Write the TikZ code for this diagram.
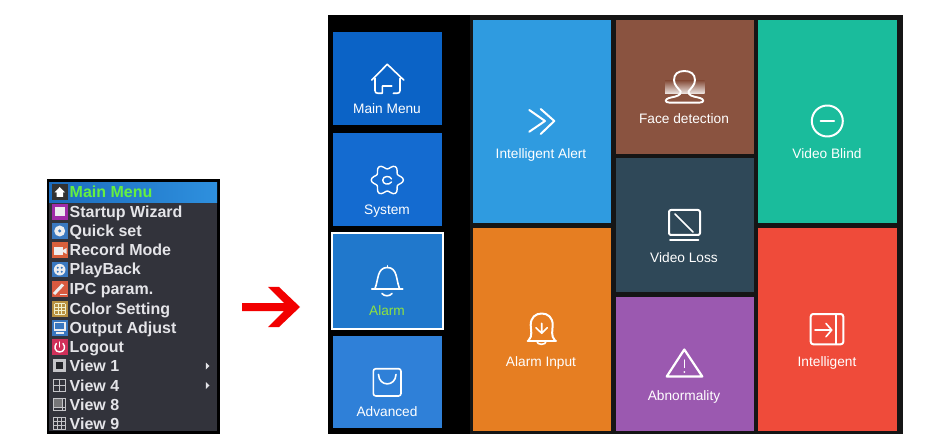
\documentclass[tikz,border=0pt]{standalone}
\usepackage{fontspec}
\setmainfont{Liberation Sans}
\definecolor{panelblack}{HTML}{000000}
\definecolor{paneldark}{HTML}{151515}
\definecolor{menubg}{HTML}{32333B}
\definecolor{tMain}{HTML}{0B63C6}
\definecolor{tSys}{HTML}{146BD0}
\definecolor{tAlarm}{HTML}{2078CC}
\definecolor{tAdv}{HTML}{2F80D8}
\definecolor{tIA}{HTML}{2F9BE0}
\definecolor{tFace}{HTML}{8A5340}
\definecolor{tLoss}{HTML}{2F4858}
\definecolor{tAbn}{HTML}{9B59B0}
\definecolor{tInput}{HTML}{E67E22}
\definecolor{tBlind}{HTML}{1ABC9C}
\definecolor{tInt}{HTML}{EF4B3A}
\definecolor{alarmgreen}{HTML}{8FE23F}
\definecolor{menugreen}{HTML}{66F040}
\definecolor{menutext}{HTML}{E4E4E8}
\definecolor{hiL}{HTML}{1C6CBE}
\definecolor{hiR}{HTML}{2E90DE}
\definecolor{iBlue}{HTML}{3A78C0}
\definecolor{iPurple}{HTML}{A02CA8}
\definecolor{iOrange}{HTML}{D8603C}
\definecolor{iRed}{HTML}{D85A40}
\definecolor{iGold}{HTML}{B89040}
\definecolor{iCrimson}{HTML}{D0305A}
\definecolor{iGrey}{HTML}{C4C4C8}
\definecolor{iWhite}{HTML}{EDEDEF}
\tikzset{
  lbl/.style={anchor=base,inner sep=0pt,text=white,font=\fontsize{13.7}{16}\selectfont},
  ico/.style={draw=white,line width=1.6pt,line cap=round,line join=round},
  icothick/.style={draw=white,line width=2pt,line cap=round,line join=round},
  mtext/.style={anchor=base west,inner sep=0pt,text=menutext,font=\bfseries\fontsize{16}{18}\selectfont},
  gridic/.style={draw=iGrey,line width=1pt},
}
\begin{document}
\begin{tikzpicture}[x=1pt,y=-1pt]
\useasboundingbox (0,0) rectangle (950,446);
\fill[white] (0,0) rectangle (950,446);
% ---------- left menu ----------
\fill[black] (47,179) rectangle (220,433.5);
\fill[menubg] (49,182) rectangle (217,431);
\shade[left color=hiL,right color=hiR] (49,183) rectangle (217,202.5);
\foreach \nm/\txt/\yy in {m1/Startup Wizard/217.5,m2/Quick set/237,m3/Record Mode/256,m4/PlayBack/275,m5/IPC param./294.5,m6/Color Setting/314,m7/Output Adjust/333,m8/Logout/352.5,m9/View 1/371.5,m10/View 4/391,m11/View 8/410,m12/View 9/429}
  \node[mtext] (\nm) at (69.5,\yy) {\txt};
\node[mtext,text=menugreen] (m0) at (69.5,198) {Main Menu};
% menu icons
% home
\fill[black!80] (51.5,184.5) rectangle (68,200.5);
\fill[white] (59.7,187) -- (65,192.5) -- (63,192.5) -- (63,197) -- (56.5,197) -- (56.5,192.5) -- (54.5,192.5) -- cycle;
% startup
\fill[iPurple] (51.5,204) rectangle (68,220);
\fill[iWhite] (54.5,207.5) rectangle (65,216.5);
% quick set
\fill[iBlue] (51.5,223) rectangle (68,239);
\fill[iWhite] (59.7,231) circle (5.5);
\fill[iBlue] (59.7,231) circle (1.7);
% record
\fill[iOrange] (51.5,242.5) rectangle (68,258.5);
\fill[iWhite] (53.5,247) rectangle (63,255);
\fill[iWhite] (63,250) -- (66.5,248) -- (66.5,254) -- (63,252) -- cycle;
% playback
\fill[iBlue] (51.5,262) rectangle (68,277.5);
\fill[iWhite] (59.7,269.7) circle (5.8);
\foreach \dx/\dy in {-2/-2,2/-2,-2/2,2/2}
  \fill[iBlue] (59.7+\dx,269.7+\dy) circle (1.1);
% ipc
\fill[iRed] (51.5,281) rectangle (68,297);
\draw[iWhite,line width=3pt] (54,294) -- (63,284.5);
\draw[iWhite,line width=1pt] (60,294.5) -- (67,294.5);
% color
\fill[iGold] (51.5,300.5) rectangle (68,316.5);
\foreach \k in {0,1,2,3} {
  \draw[iWhite!85!yellow,line width=.8pt] (54.5+3.5*\k,303.5) -- (54.5+3.5*\k,314);
  \draw[iWhite!85!yellow,line width=.8pt] (54.5,303.5+3.5*\k) -- (65,303.5+3.5*\k);
}
% output
\fill[iBlue] (51.5,319.5) rectangle (68,335.5);
\draw[iWhite,line width=1.3pt] (54.5,322.5) rectangle (65,330);
\fill[iWhite] (56,332) rectangle (63.5,333.5);
% logout
\fill[iCrimson] (51.5,339) rectangle (68,355);
\draw[white,line width=1.4pt,line cap=round] (56.4,343.5) .. controls (53.5,346.5) and (55,352) .. (59.7,352) .. controls (64.5,352) and (66,346.5) .. (63,343.5);
\draw[white,line width=1.4pt,line cap=round] (59.7,342) -- (59.7,347);
% view 1
\fill[iGrey] (53,359) rectangle (65.5,371.5);
\fill[menubg!70!black] (55.5,361.5) rectangle (63,369);
% view 4
\draw[gridic] (53.5,379) rectangle (65.5,391);
\draw[gridic] (59.5,379) -- (59.5,391) (53.5,385) -- (65.5,385);
% view 8
\draw[gridic] (53.5,398) rectangle (65.5,410);
\fill[iGrey!60!black] (54,398.5) rectangle (62,406.5);
\draw[gridic,line width=.7pt] (62.5,398) -- (62.5,410) (53.5,407) -- (65.5,407);
% view 9
\draw[gridic] (53.5,417) rectangle (65.5,429);
\draw[gridic,line width=.8pt] (57.5,417) -- (57.5,429) (61.5,417) -- (61.5,429) (53.5,421) -- (65.5,421) (53.5,425) -- (65.5,425);
% submenu marks
\fill[menutext] (205.8,362.5) -- (209.5,366) -- (205.8,369.5) -- cycle;
\fill[menutext] (205.8,382) -- (209.5,385.5) -- (205.8,389) -- cycle;
% ---------- arrow ----------
\fill[red!95!black] (242,303) -- (284,303) -- (268,287) -- (279,287) -- (300,307) -- (279,327) -- (268,327) -- (284,311) -- (242,311) -- cycle;
% ---------- right panel ----------
\fill[paneldark] (328,15) rectangle (903,434);
\fill[panelblack] (328,15) rectangle (470,434);
% side tiles
\fill[tMain] (333,32) rectangle (441.5,125);
\fill[tSys] (333,133.5) rectangle (441.5,226);
\fill[white] (330.5,232) rectangle (444,330);
\fill[tAlarm] (333,234) rectangle (441.5,327.5);
\fill[tAdv] (333,336) rectangle (441.5,428);
% main tiles
\fill[tIA] (472.5,20) rectangle (610.5,223);
\fill[tFace] (615.5,20) rectangle (753.5,154);
\fill[tLoss] (615.5,158.5) rectangle (753.5,292);
\fill[tAbn] (615.5,297) rectangle (753.5,431);
\fill[tInput] (472.5,228) rectangle (610.5,431);
\fill[tBlind] (758,20) rectangle (896.5,223);
\fill[tInt] (758,228) rectangle (896.5,431);
% labels
\node[lbl] (lmain) at (387,113.5) {Main Menu};
\node[lbl] (lsys) at (387,214.5) {System};
\node[lbl,text=alarmgreen] (lalarm) at (387,315.5) {Alarm};
\node[lbl] (ladv) at (387,416.5) {Advanced};
\node[lbl] (lia) at (541,158.5) {Intelligent Alert};
\node[lbl] (lface) at (684,123.5) {Face detection};
\node[lbl] (lloss) at (684,262) {Video Loss};
\node[lbl] (linput) at (541,366.5) {Alarm Input};
\node[lbl] (labn) at (684,400.5) {Abnormality};
\node[lbl] (lblind) at (827,158.5) {Video Blind};
\node[lbl] (lint) at (827,366.5) {Intelligent};
% home icon
\draw[ico] (371.7,80) -- (387.3,64.3) -- (403.7,80);
\draw[ico] (375,78.3) -- (375,90.5) .. controls (375,92.5) and (376,93.3) .. (378,93.3) -- (382.3,93.3) -- (382.3,86) -- (391.7,86);
\draw[ico] (400,78.3) -- (400,90.5) .. controls (400,92.5) and (399,93.3) .. (397,93.3) -- (393.3,93.3);
% gear icon
\draw[ico,line width=1.4pt] plot[smooth cycle,samples=48,domain=0:352.5,variable=\t] ({387.3+(13.9+2.2*cos(6*\t))*cos(\t)},{180+(13.2+2.2*cos(6*\t))*sin(\t)});
\draw[ico,line width=1.4pt] (391.5,179) .. controls (390.5,175.5) and (383,175.5) .. (382.7,180) .. controls (382.5,184.5) and (389,185.5) .. (391.5,182);
% bell icon
\draw[ico] (371.7,289) -- (402.7,289);
\draw[ico] (375,288.5) .. controls (378.5,280) and (377,267.5) .. (387.3,267.5) .. controls (397.6,267.5) and (396,280) .. (399.5,288.5);
\draw[ico] (387.3,265.7) -- (387.3,267.5);
\draw[ico] (382,293.5) .. controls (384,296.5) and (390,296.5) .. (392,293.5);
% bag icon
\draw[ico,rounded corners=2.5pt] (373.3,368.7) rectangle (401,396);
\draw[ico] (378.5,374.5) .. controls (379,387) and (395.5,387) .. (396,374.5);
% chevrons
\draw[icothick] (529.3,110) -- (545,121) -- (529.3,131.7);
\draw[icothick] (540.7,109) -- (554.3,121) -- (540.7,134);
% face icon
\shade[top color=tFace,bottom color=white!85!tFace] (665,81) rectangle (704.5,93.5);
\draw[ico,line width=1.9pt] (680.7,91.5) .. controls (678,88) and (674,85) .. (674,80) .. controls (674,74) and (678,71) .. (684.3,71) .. controls (690.5,71) and (695,74) .. (695,80) .. controls (695,85) and (691,88) .. (688.5,91.5) .. controls (688,95.5) and (693,96.5) .. (698,97.5) .. controls (705,99) and (705,102.5) .. (699,102.7) -- (670,102.7) .. controls (664,102.5) and (664,99) .. (671,97.5) .. controls (676,96.5) and (681,95.5) .. (680.7,91.5) -- cycle;
% monitor icon
\draw[icothick,rounded corners=2pt] (669,210) rectangle (700,235);
\draw[ico] (675,214) -- (693,232);
\draw[ico] (670,240) -- (698.5,240);
% alarm input icon
\draw[icothick] (527.5,340.7) -- (556,340.7);
\draw[icothick] (528.5,340.5) .. controls (533,336) and (530.7,330) .. (530.7,325) .. controls (530.7,317.5) and (535.5,313.5) .. (541.7,313.5) .. controls (548,313.5) and (552.7,317.5) .. (552.7,325) .. controls (552.7,330) and (550.5,336) .. (555,340.5);
\draw[ico] (536.7,341) .. controls (537,345.5) and (546,345.5) .. (546.3,341);
\draw[ico] (541.7,323.3) -- (541.7,333.3) (536,327.7) -- (541.7,333.3) -- (547.3,327.7);
% triangle icon
\draw[icothick,line width=2.2pt] (684.3,349.5) -- (702.3,376.5) -- (666.7,376.5) -- cycle;
\draw[ico,line width=1.3pt] (684.3,360) -- (684.3,367.5);
\fill[white] (684.3,372) circle (1);
% blind icon
\draw[icothick] (827.3,121) circle (15.5);
\draw[icothick] (820.7,121) -- (834,121);
% intelligent icon
\draw[icothick,rounded corners=2.5pt] (810.7,314) rectangle (843.3,344.3);
\draw[ico] (836,314) -- (836,344.3);
\draw[ico] (815,330) -- (831.7,330) (826,323.5) -- (831.7,330) -- (826,336.7);
\end{tikzpicture}
\end{document}
